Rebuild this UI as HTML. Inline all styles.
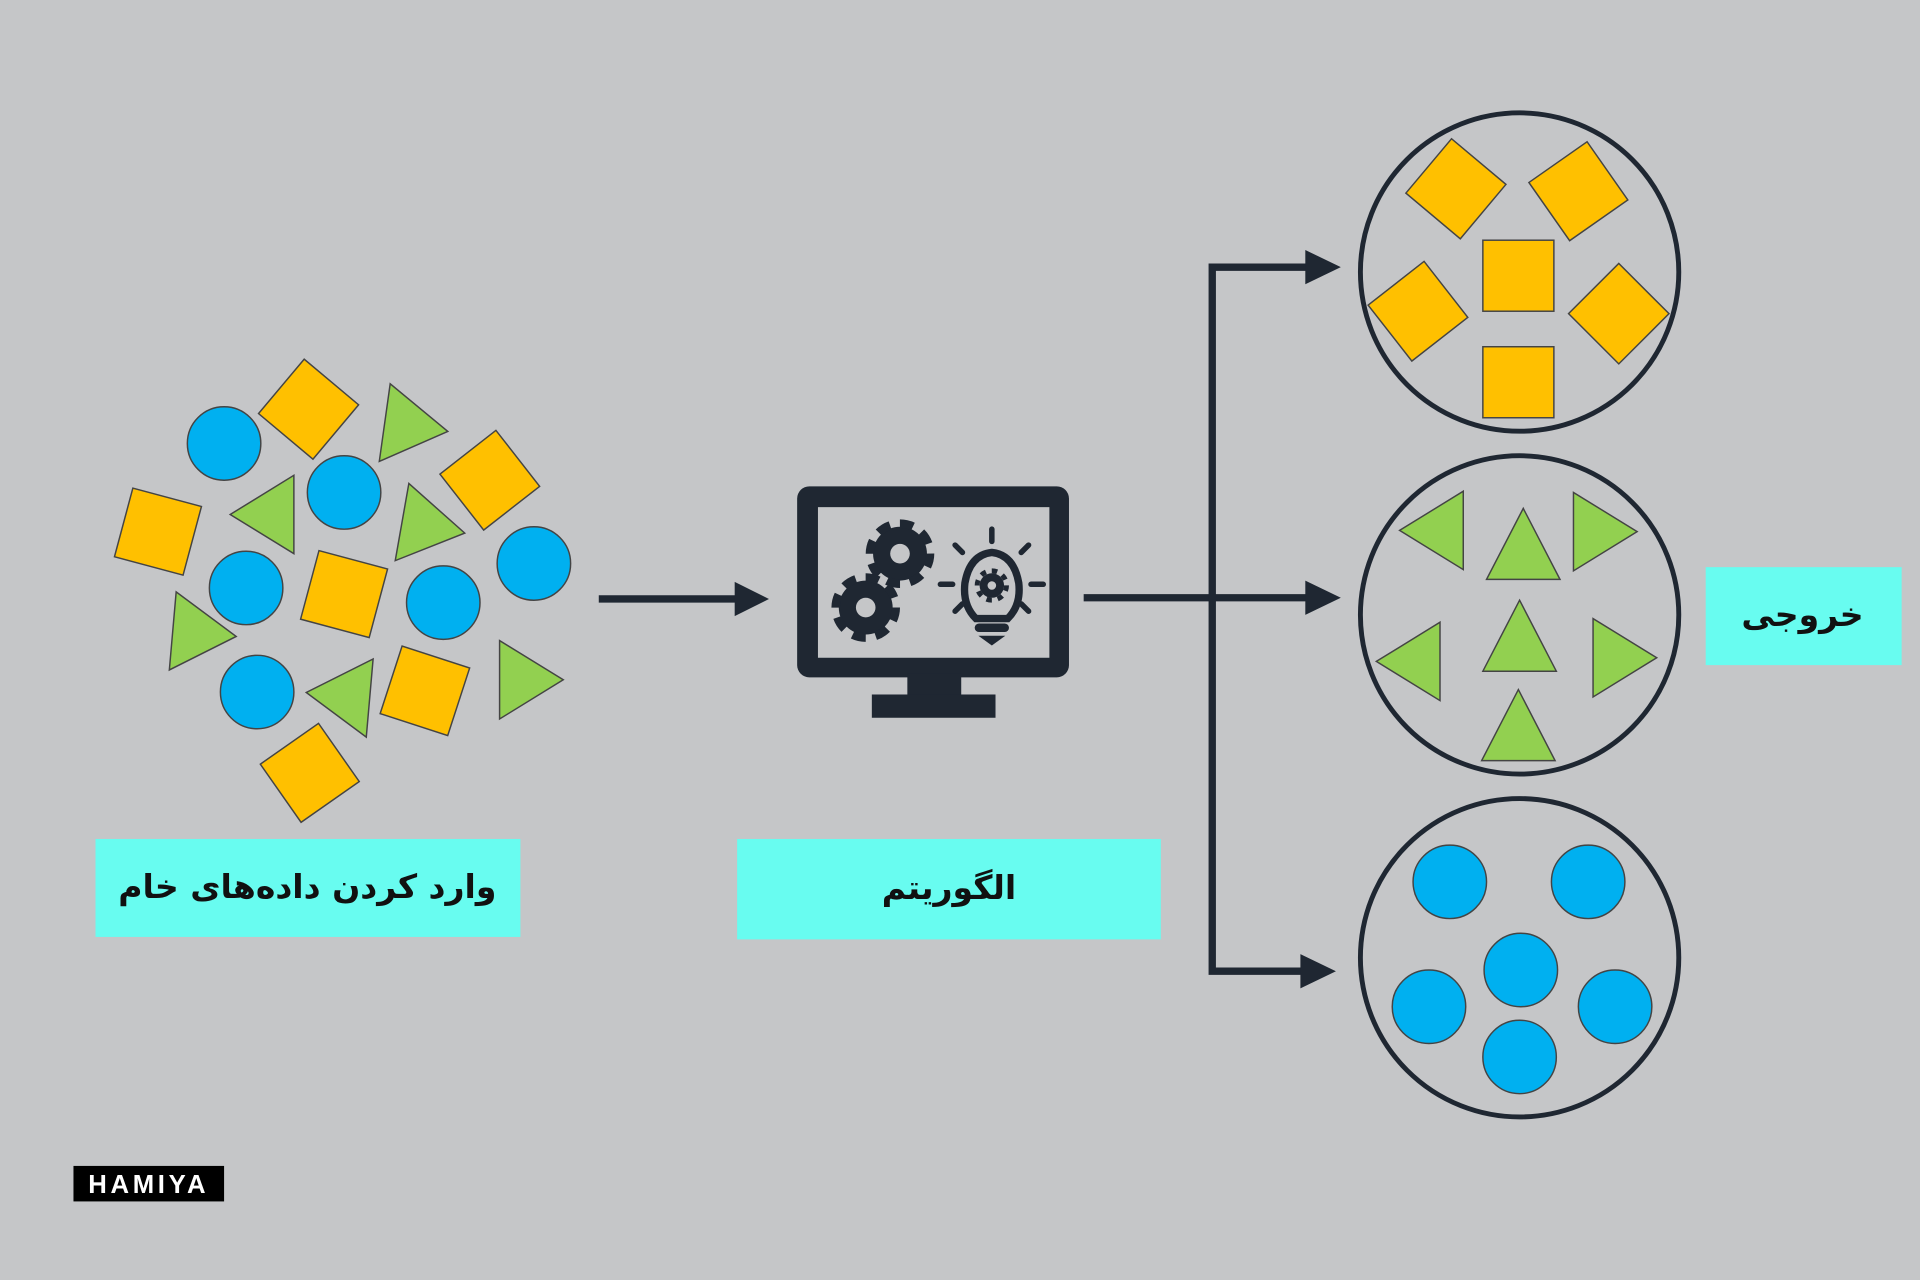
<!DOCTYPE html>
<html><head><meta charset="utf-8"><style>
html,body{margin:0;padding:0;background:#c5c6c8;}
svg{display:block}
</style></head><body>
<svg width="1920" height="1280" viewBox="0 0 1568 1045" xmlns="http://www.w3.org/2000/svg">
<rect width="1568" height="1045" fill="#c5c6c8"/>
<defs>
<rect id="sq" x="-29" y="-29" width="58" height="58" fill="#ffc000" stroke="#444" stroke-width="1.2"/>
<circle id="ci" r="30" fill="#00b0f0" stroke="#444" stroke-width="1.2"/>
<polygon id="tr" points="-22,-32 -22,32 30,0" fill="#92d050" stroke="#444" stroke-width="1.2"/>
<polygon id="tu" points="0,-30 30,28 -30,28" fill="#92d050" stroke="#444" stroke-width="1.2"/>
</defs>
<use href="#ci" x="183" y="362"/><use href="#ci" x="281" y="402"/><use href="#ci" x="201" y="480"/>
<use href="#ci" x="362" y="492"/><use href="#ci" x="436" y="460"/><use href="#ci" x="210" y="565"/>
<use href="#sq" transform="translate(252,334) rotate(40)"/>
<use href="#sq" transform="translate(400,392) rotate(-38)"/>
<use href="#sq" transform="translate(129,434) rotate(15)"/>
<use href="#sq" transform="translate(281,485) rotate(15)"/>
<use href="#sq" transform="translate(347,564) rotate(18)"/>
<use href="#sq" transform="translate(253,631) rotate(-35)"/>
<use href="#tr" transform="translate(336,348) rotate(8)"/>
<use href="#tr" transform="translate(218,420) rotate(180)"/>
<use href="#tr" transform="translate(350,430) rotate(10)"/>
<use href="#tr" transform="translate(163,517) rotate(5)"/>
<use href="#tr" transform="translate(280,568) rotate(185)"/>
<use href="#tr" transform="translate(430,555) rotate(0)"/>
<g fill="#1f2732" stroke="#1f2732">
<line x1="489" y1="489" x2="605" y2="489" stroke-width="6"/>
<polygon points="600,475 628,489 600,503" stroke="none"/>
<line x1="885" y1="488" x2="1070" y2="488" stroke-width="6"/>
<polygon points="1066,474 1095,488 1066,502" stroke="none"/>
<polyline points="1070,218 990,218 990,793 1066,793" fill="none" stroke-width="6"/>
<polygon points="1066,204 1095,218 1066,232" stroke="none"/>
<polygon points="1062,779 1091,793 1062,807" stroke="none"/>
</g>
<g fill="#1f2732">
<rect x="651" y="397" width="222" height="156" rx="10"/>
<rect x="668" y="414" width="189" height="123" fill="#c5c6c8"/>
<rect x="741" y="550" width="44" height="20"/>
<rect x="712" y="567" width="101" height="19"/>
<circle cx="735" cy="452" r="22"/>
<circle cx="735" cy="452" r="24.5" fill="none" stroke="#1f2732" stroke-width="7" stroke-dasharray="11 8.2"/>
<circle cx="735" cy="452" r="8" fill="#c5c6c8"/>
<circle cx="707" cy="496" r="22"/>
<circle cx="707" cy="496" r="24.5" fill="none" stroke="#1f2732" stroke-width="7" stroke-dasharray="11 8.2"/>
<circle cx="707" cy="496" r="8" fill="#c5c6c8"/>
<path d="M797,505 Q786,494 788,476 Q792,453 810,451 Q828,453 832,476 Q834,494 823,505 Z" fill="none" stroke="#1f2732" stroke-width="6"/>
<rect x="796" y="509" width="28" height="7" rx="3.5"/>
<path d="M799,519 L821,519 L810,527 Z"/>
<circle cx="810" cy="478" r="10"/>
<circle cx="810" cy="478" r="12" fill="none" stroke="#1f2732" stroke-width="4" stroke-dasharray="4.5 4.9"/>
<circle cx="810" cy="478" r="3.5" fill="#c5c6c8"/>
<g stroke="#1f2732" stroke-width="4.5" stroke-linecap="round">
<line x1="810" y1="432" x2="810" y2="442"/><line x1="778" y1="477" x2="768" y2="477"/><line x1="842" y1="477" x2="852" y2="477"/>
<line x1="786" y1="451" x2="780" y2="445"/><line x1="834" y1="451" x2="840" y2="445"/>
<line x1="786" y1="493" x2="780" y2="499"/><line x1="834" y1="493" x2="840" y2="499"/>
</g>
</g>
<g fill="none" stroke="#1f2732" stroke-width="4">
<circle cx="1241" cy="222" r="130"/><circle cx="1241" cy="502" r="130"/><circle cx="1241" cy="782" r="130"/>
</g>
<use href="#sq" transform="translate(1189,154) rotate(40)"/>
<use href="#sq" transform="translate(1289,156) rotate(-35)"/>
<use href="#sq" transform="translate(1158,254) rotate(-38)"/>
<use href="#sq" transform="translate(1240,225)"/>
<use href="#sq" transform="translate(1322,256) rotate(45)"/>
<use href="#sq" transform="translate(1240,312)"/>
<use href="#tr" transform="translate(1173,433) rotate(180)"/>
<use href="#tu" transform="translate(1244,445)"/>
<use href="#tr" transform="translate(1307,434)"/>
<use href="#tr" transform="translate(1154,540) rotate(180)"/>
<use href="#tu" transform="translate(1241,520)"/>
<use href="#tr" transform="translate(1323,537)"/>
<use href="#tu" transform="translate(1240,593)"/>
<use href="#ci" x="1184" y="720"/><use href="#ci" x="1297" y="720"/><use href="#ci" x="1242" y="792"/>
<use href="#ci" x="1167" y="822"/><use href="#ci" x="1319" y="822"/><use href="#ci" x="1241" y="863"/>
<g fill="#68fcf0">
<rect x="78" y="685" width="347" height="80"/>
<rect x="602" y="685" width="346" height="82"/>
<rect x="1393" y="463" width="160" height="80"/>
</g>
<g font-family="'DejaVu Sans', sans-serif" font-weight="bold" font-size="27" fill="#111" text-anchor="middle" direction="rtl">
<text x="251" y="733">وارد کردن داده‌های خام</text>
<text x="775" y="734">الگوریتم</text>
<text x="1472" y="511">خروجی</text>
</g>
<rect x="60" y="952" width="123" height="29" fill="#000"/>
<text x="121.5" y="974" fill="#fff" font-family="'Liberation Sans', sans-serif" font-weight="bold" font-size="21" text-anchor="middle" letter-spacing="3">HAMIYA</text>
</svg>
</body></html>
